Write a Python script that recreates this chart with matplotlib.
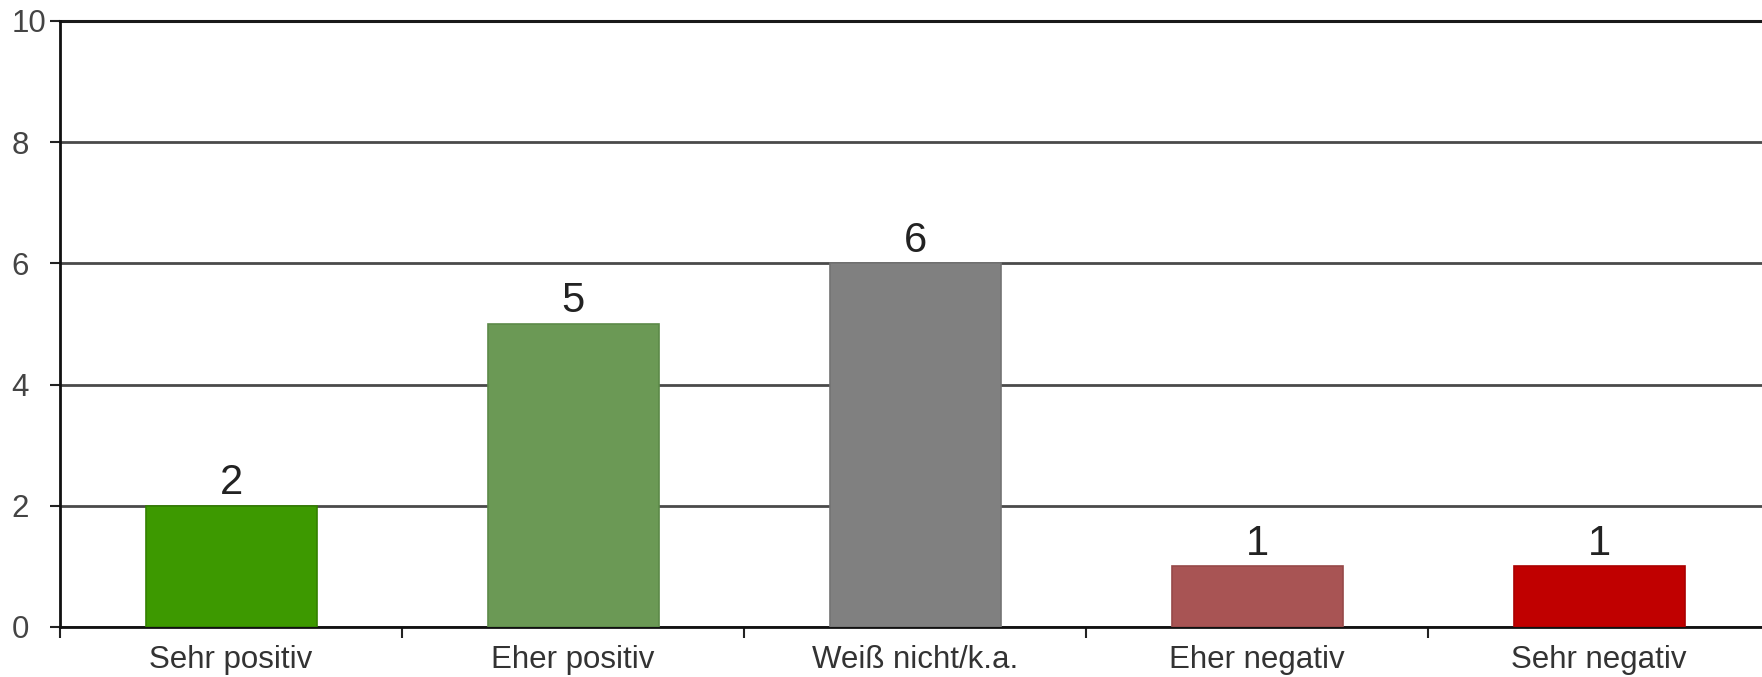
import matplotlib.pyplot as plt
import numpy as np

plt.rcParams['font.family'] = ['Liberation Sans', 'DejaVu Sans']

categories = ["Sehr positiv", "Eher positiv", "Weiß nicht/k.a.", "Eher negativ", "Sehr negativ"]
values = [2, 5, 6, 1, 1]
colors = ["#3d9900", "#6b9955", "#808080", "#a85454", "#c00000"]
edges = ["#338000", "#5c8a48", "#737373", "#964848", "#aa0000"]
yticks = [0, 2, 4, 6, 8, 10]

fig = plt.figure(figsize=(17.62, 6.77), dpi=100)
ax = fig.add_axes([60 / 1762, 50 / 677, 1710 / 1762, 606 / 677])

x = np.arange(len(categories))
bars = ax.bar(x, values, width=0.5, color=colors, edgecolor=edges, linewidth=1.2, zorder=3)

# Wertbeschriftung über den Balken
for b, v in zip(bars, values):
    ax.annotate(str(v), (b.get_x() + b.get_width() / 2, v), xytext=(0, 2),
                textcoords="offset points", ha="center", va="bottom",
                fontsize=30, color="#222222")

ax.set_xlim(-0.5, len(categories) - 0.5)
ax.set_ylim(0, 10)
ax.set_axisbelow(True)

# Striche zwischen den Kategorien, Beschriftung mittig
ax.set_xticks(np.arange(-0.5, len(categories), 1.0))
ax.set_xticklabels([])
ax.set_xticks(x, minor=True)
ax.set_xticklabels(categories, minor=True)
ax.tick_params(axis="x", which="major", direction="out", length=8, width=1.5, color="#222222")
ax.tick_params(axis="x", which="minor", length=0, pad=13, labelsize=22.5, labelcolor="#333333")

ax.set_yticks(yticks)
ax.tick_params(axis="y", direction="out", length=7, width=1.5, color="#222222",
               pad=28, labelsize=22.5, labelcolor="#444444")
for lab in ax.get_yticklabels():
    lab.set_horizontalalignment("left")

ax.grid(axis="y", color="#4a4a4a", linewidth=2.0)
for s in ["top", "right"]:
    ax.spines[s].set_visible(False)
for s in ["left", "bottom"]:
    ax.spines[s].set_linewidth(2.0)
    ax.spines[s].set_color("#111111")
ax.axhline(10, color="#1a1a1a", linewidth=2.2, zorder=2, clip_on=False)

fig.savefig("out.png", dpi=100)
